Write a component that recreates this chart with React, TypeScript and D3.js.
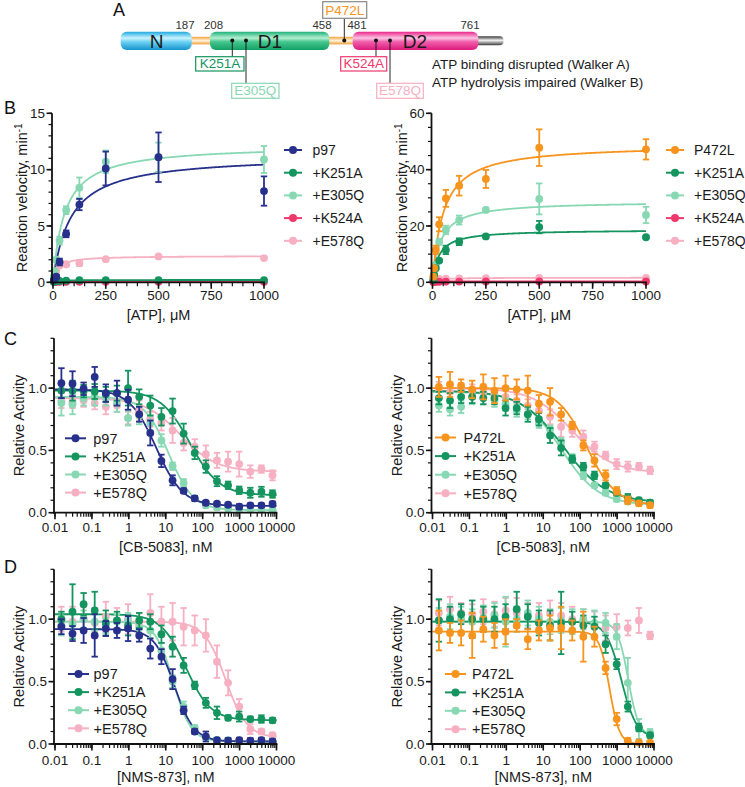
import React from "react";
import * as d3 from "d3";

const FONT = "'Liberation Sans', Arial, Helvetica, sans-serif";

const C_NAVY = "#27318c";
const C_DGREEN = "#14955f";
const C_LGREEN = "#88d8b3";
const C_RED = "#f0386d";
const C_PINK = "#f6b0c2";
const C_ORANGE = "#f7941e";

// ---------- Panel B data ----------
const atpConc = [3.9, 7.8, 15.6, 31.25, 62.5, 125, 250, 500, 1000];
const atpTicks = [0, 250, 500, 750, 1000];

const bL_p97 = [0.2, 0.3, 0.5, 1.8, 4.3, 6.9, 10.1, 11.1, 8.1];
const bL_p97_err = [0.1, 0.1, 0.15, 0.3, 0.3, 0.5, 1.5, 2.2, 1.3];
const bL_K251A = [0.05, 0.08, 0.1, 0.12, 0.15, 0.18, 0.2, 0.2, 0.2];
const bL_K251A_err = [0.02, 0.02, 0.02, 0.02, 0.02, 0.02, 0.03, 0.03, 0.03];
const bL_E305Q = [0.5, 1.0, 2.0, 3.7, 6.4, 8.4, 10.7, 11.1, 10.9];
const bL_E305Q_err = [0.1, 0.15, 0.2, 0.35, 0.35, 0.9, 1.0, 1.3, 1.2];
const bL_K524A = [0.02, 0.03, 0.04, 0.05, 0.05, 0.05, 0.05, 0.05, 0.05];
const bL_K524A_err = [0.01, 0.01, 0.01, 0.01, 0.01, 0.01, 0.01, 0.01, 0.01];
const bL_E578Q = [0.3, 0.6, 1.0, 1.5, 1.6, 1.7, 2.05, 2.3, 2.15];
const bL_E578Q_err = [0.05, 0.1, 0.1, 0.15, 0.15, 0.25, 0.1, 0.1, 0.1];
// Michaelis-Menten fit parameters [Vmax, Km]
const bL_fits = [[11.3, 82], [0.21, 20], [12.2, 55], [0.05, 10], [2.35, 22]];

const bR_P472L = [2.0, 5.0, 11.5, 20.6, 29.8, 34.3, 36.7, 47.8, 47.2];
const bR_P472L_err = [0.3, 0.5, 1.5, 2.5, 3, 3.5, 3.2, 6.5, 3.6];
const bR_K251A = [0.8, 2.6, 5.0, 7.7, 11.5, 14.4, 16.3, 19.6, 16.0];
const bR_K251A_err = [0.2, 0.3, 0.4, 0.5, 1.5, 1.2, 0.5, 2.2, 0.5];
const bR_E305Q = [1.2, 2.6, 6.2, 14.4, 18.6, 22.1, 25.7, 29.6, 23.9];
const bR_E305Q_err = [0.2, 0.3, 0.5, 1, 1.5, 1.6, 0.8, 5.5, 2.9];
const bR_K524A = [0.1, 0.15, 0.2, 0.2, 0.25, 0.25, 0.3, 0.3, 0.3];
const bR_K524A_err = [0.05, 0.05, 0.05, 0.05, 0.05, 0.05, 0.05, 0.05, 0.05];
const bR_E578Q = [0.5, 0.8, 1.0, 1.2, 1.3, 1.4, 1.5, 1.6, 1.6];
const bR_E578Q_err = [0.1, 0.1, 0.1, 0.1, 0.1, 0.1, 0.1, 0.1, 0.1];
const bR_fits = [[49, 50], [18.7, 30], [28.8, 38], [0.35, 20], [1.65, 25]];

// ---------- Panels C / D data ----------
const doseConc = [0.0149, 0.0298, 0.0596, 0.119, 0.238, 0.477, 0.954, 1.91, 3.81, 7.63, 15.3, 30.5, 61.0, 122, 244, 488, 977, 1953, 3906, 7813];
const doseTicks = [0.01, 0.1, 1, 10, 100, 1000, 10000];
const relTicks = [0, 0.5, 1.0];

const cL_p97 = [1.04, 1.035, 0.995, 1.09, 0.96, 0.96, 0.907, 0.79, 0.64, 0.416, 0.26, 0.176, 0.115, 0.08, 0.072, 0.064, 0.048, 0.059, 0.059, 0.07];
const cL_p97_err = [0.12, 0.1, 0.05, 0.08, 0.07, 0.1, 0.08, 0.06, 0.1, 0.05, 0.04, 0.02, 0.02, 0.015, 0.015, 0.015, 0.02, 0.015, 0.015, 0.02];
const cL_K251A = [0.98, 0.98, 0.976, 0.973, 0.95, 0.96, 1.0, 0.93, 0.86, 0.77, 0.816, 0.635, 0.48, 0.37, 0.253, 0.22, 0.18, 0.16, 0.168, 0.15];
const cL_K251A_err = [0.06, 0.08, 0.05, 0.06, 0.06, 0.06, 0.14, 0.06, 0.08, 0.07, 0.1, 0.08, 0.05, 0.05, 0.04, 0.03, 0.03, 0.04, 0.04, 0.03];
const cL_E305Q = [0.88, 0.87, 0.92, 0.93, 0.92, 0.88, 0.76, 0.78, 0.72, 0.58, 0.373, 0.24, 0.115, 0.06, 0.043, 0.035, 0.03, 0.025, 0.025, 0.02];
const cL_E305Q_err = [0.1, 0.08, 0.06, 0.07, 0.06, 0.07, 0.06, 0.07, 0.06, 0.05, 0.03, 0.03, 0.02, 0.02, 0.02, 0.02, 0.02, 0.02, 0.02, 0.02];
const cL_E578Q = [0.9, 0.89, 0.9, 0.88, 0.85, 0.86, 0.76, 0.82, 0.75, 0.72, 0.66, 0.56, 0.53, 0.47, 0.42, 0.41, 0.39, 0.33, 0.35, 0.3];
const cL_E578Q_err = [0.06, 0.05, 0.05, 0.05, 0.06, 0.05, 0.05, 0.08, 0.06, 0.06, 0.1, 0.06, 0.06, 0.07, 0.06, 0.08, 0.1, 0.05, 0.03, 0.04];
// dose-response fit parameters [top, bottom, IC50, hill]
const cL_fits = [[0.99, 0.055, 5.5, 1.2], [0.98, 0.14, 45, 1.1], [0.93, 0.02, 12, 1.3], [0.92, 0.33, 25, 0.9]];

const cR_P472L = [1.01, 1.03, 1.02, 0.99, 1.01, 0.98, 1.0, 0.99, 0.98, 0.875, 0.89, 0.79, 0.7, 0.54, 0.42, 0.3, 0.176, 0.1, 0.075, 0.06];
const cR_P472L_err = [0.08, 0.1, 0.05, 0.07, 0.1, 0.1, 0.1, 0.08, 0.12, 0.07, 0.11, 0.05, 0.03, 0.04, 0.05, 0.04, 0.03, 0.03, 0.02, 0.02];
const cR_K251A = [0.92, 0.9, 0.93, 0.93, 0.92, 0.92, 0.84, 0.84, 0.79, 0.75, 0.62, 0.52, 0.43, 0.37, 0.3, 0.22, 0.16, 0.12, 0.1, 0.08];
const cR_K251A_err = [0.05, 0.06, 0.05, 0.05, 0.05, 0.05, 0.06, 0.05, 0.06, 0.05, 0.06, 0.06, 0.03, 0.03, 0.03, 0.02, 0.02, 0.03, 0.02, 0.02];
const cR_E305Q = [0.86, 0.83, 0.85, 0.93, 0.92, 0.9, 0.87, 0.82, 0.79, 0.72, 0.67, 0.57, 0.44, 0.3, 0.22, 0.16, 0.11, 0.09, 0.08, 0.08];
const cR_E305Q_err = [0.05, 0.05, 0.05, 0.06, 0.05, 0.05, 0.05, 0.05, 0.04, 0.04, 0.03, 0.03, 0.03, 0.03, 0.02, 0.02, 0.02, 0.02, 0.02, 0.02];
const cR_E578Q = [0.99, 0.97, 0.99, 0.98, 0.97, 0.95, 0.93, 0.9, 0.86, 0.82, 0.77, 0.69, 0.66, 0.61, 0.53, 0.46, 0.39, 0.37, 0.37, 0.34];
const cR_E578Q_err = [0.06, 0.05, 0.05, 0.05, 0.06, 0.05, 0.05, 0.05, 0.05, 0.05, 0.06, 0.08, 0.05, 0.05, 0.04, 0.03, 0.04, 0.04, 0.03, 0.03];
const cR_fits = [[1.0, 0.06, 150, 1.1], [0.98, 0.08, 35, 0.75], [0.97, 0.06, 30, 0.85], [1.0, 0.32, 60, 0.8]];

const dL_p97 = [0.94, 0.885, 0.91, 0.87, 0.925, 0.91, 0.925, 0.87, 0.765, 0.7, 0.52, 0.27, 0.1, 0.06, 0.03, 0.027, 0.03, 0.027, 0.03, 0.02];
const dL_p97_err = [0.06, 0.06, 0.1, 0.17, 0.06, 0.06, 0.1, 0.05, 0.08, 0.06, 0.08, 0.03, 0.02, 0.04, 0.02, 0.02, 0.02, 0.02, 0.02, 0.02];
const dL_K251A = [1.0, 1.06, 1.12, 1.07, 0.97, 0.99, 0.95, 0.99, 0.98, 0.88, 0.78, 0.63, 0.47, 0.33, 0.25, 0.21, 0.22, 0.2, 0.2, 0.19];
const dL_K251A_err = [0.06, 0.22, 0.09, 0.15, 0.1, 0.07, 0.08, 0.06, 0.06, 0.07, 0.08, 0.06, 0.03, 0.04, 0.05, 0.02, 0.04, 0.02, 0.03, 0.02];
const dL_E305Q = [0.95, 0.96, 1.0, 0.98, 0.95, 0.98, 0.99, 0.93, 0.91, 0.75, 0.5, 0.3, 0.13, 0.05, 0.03, 0.03, 0.02, 0.02, 0.02, 0.02];
const dL_E305Q_err = [0.08, 0.1, 0.07, 0.08, 0.06, 0.06, 0.06, 0.07, 0.06, 0.06, 0.05, 0.04, 0.02, 0.02, 0.02, 0.02, 0.02, 0.02, 0.02, 0.02];
const dL_E578Q = [1.0, 0.98, 1.0, 0.97, 1.02, 0.99, 1.0, 0.95, 1.05, 0.98, 0.98, 0.94, 0.91, 0.87, 0.66, 0.49, 0.3, 0.12, 0.1, 0.07];
const dL_E578Q_err = [0.1, 0.12, 0.1, 0.12, 0.12, 0.1, 0.12, 0.1, 0.15, 0.12, 0.15, 0.15, 0.12, 0.13, 0.13, 0.1, 0.06, 0.04, 0.02, 0.02];
const dL_fits = [[0.92, 0.02, 17, 1.6], [1.04, 0.19, 35, 1.3], [0.98, 0.02, 16, 1.8], [0.98, 0.05, 420, 1.5]];

const dR_P472L = [0.91, 0.89, 0.89, 0.87, 0.92, 0.87, 0.9, 0.95, 0.84, 0.91, 0.93, 0.93, 0.91, 0.86, 0.86, 0.61, 0.2, 0.027, 0.013, 0.01];
const dR_P472L_err = [0.16, 0.08, 0.1, 0.18, 0.1, 0.1, 0.1, 0.05, 0.08, 0.08, 0.1, 0.17, 0.08, 0.2, 0.08, 0.05, 0.05, 0.02, 0.01, 0.01];
const dR_K251A = [0.99, 1.0, 1.04, 1.0, 1.0, 1.0, 1.02, 1.08, 1.02, 0.97, 0.95, 0.97, 0.98, 0.95, 0.94, 0.8, 0.64, 0.3, 0.133, 0.07];
const dR_K251A_err = [0.17, 0.1, 0.08, 0.15, 0.1, 0.1, 0.1, 0.14, 0.1, 0.1, 0.12, 0.25, 0.08, 0.08, 0.08, 0.07, 0.04, 0.04, 0.03, 0.02];
const dR_E305Q = [0.99, 1.02, 1.0, 0.98, 1.01, 1.03, 0.98, 1.0, 1.05, 1.0, 0.98, 0.99, 0.98, 1.0, 0.97, 0.97, 0.86, 0.49, 0.12, 0.09];
const dR_E305Q_err = [0.1, 0.1, 0.1, 0.1, 0.1, 0.1, 0.2, 0.1, 0.1, 0.1, 0.1, 0.1, 0.1, 0.08, 0.1, 0.08, 0.1, 0.2, 0.08, 0.03];
const dR_E578Q = [1.05, 1.08, 1.05, 1.04, 1.06, 1.04, 1.07, 1.05, 1.03, 1.03, 1.05, 1.03, 1.0, 0.98, 0.96, 0.93, 0.94, 0.93, 0.99, 0.87];
const dR_E578Q_err = [0.1, 0.1, 0.08, 0.08, 0.1, 0.1, 0.1, 0.12, 0.1, 0.1, 0.1, 0.1, 0.1, 0.1, 0.1, 0.1, 0.1, 0.06, 0.1, 0.03];
const dR_fits = [[0.9, 0.0, 620, 3.2], [0.98, 0.05, 1300, 2.1], [0.98, 0.06, 2000, 3], null];

type Series = { name: string; color: string; y: number[]; err: number[]; fit: number[] | null };

const mm = (p: number[]) => (x: number) => (p[0] * x) / (p[1] + x);
const dose = (p: number[]) => (x: number) => p[1] + (p[0] - p[1]) / (1 + Math.pow(x / p[2], p[3]));

type PanelProps = {
  left: number; right: number; top: number; bottom: number;
  log: boolean; yMax: number; yMajor: number[]; yMinorStep: number;
  yFmt: (v: number) => string; xTitle: string; yTitle: string; yTitleX: number;
  xTickY: number; xTitleY: number; series: Series[]; conc: number[];
  legend: { y0: number; dy: number; lx0: number; lx1: number; tx: number; fs: number };
};

function Panel(p: PanelProps) {
  const x: any = p.log
    ? d3.scaleLog().domain([0.01, 10000]).range([p.left, p.right])
    : d3.scaleLinear().domain([0, 1000]).range([p.left, p.right]);
  const y = d3.scaleLinear().domain([0, p.yMax]).range([p.bottom, p.top]);
  const xMajor = p.log ? doseTicks : atpTicks;
  const xMinor: number[] = p.log ? (x.ticks() as number[]) : d3.range(0, 1001, 50);
  const yMinor = d3.range(0, p.yMax + 1e-9, p.yMinorStep);
  const grid = p.log ? d3.range(-2, 4.0001, 0.02).map((e) => Math.pow(10, e)) : d3.range(0, 1000.1, 4);
  const cap = 3.2;
  const sw = 1.8;
  return (
    <g fontFamily={FONT}>
      {[...p.series].reverse().map((s, i) =>
        s.fit ? (
          <path key={"f" + i}
            d={d3.line<number>().x((d) => x(d)).y((d) => y((p.log ? dose(s.fit!) : mm(s.fit!))(d)))(grid) || ""}
            fill="none" stroke={s.color} strokeWidth={1.8} />
        ) : null
      )}
      {[...p.series].reverse().map((s, i) => (
        <g key={"s" + i} stroke={s.color} fill={s.color}>
          {p.conc.map((c, j) => {
            const cx = x(c);
            const v = s.y[j];
            const e = s.err[j];
            const y1 = y(Math.max(0, v - e));
            const y2 = y(v + e);
            return (
              <g key={j}>
                <line x1={cx} x2={cx} y1={y1} y2={y2} strokeWidth={sw} />
                <line x1={cx - cap} x2={cx + cap} y1={y1} y2={y1} strokeWidth={sw} />
                <line x1={cx - cap} x2={cx + cap} y1={y2} y2={y2} strokeWidth={sw} />
                <circle cx={cx} cy={y(v)} r={3.9} stroke="none" />
              </g>
            );
          })}
        </g>
      ))}
      <g stroke="#111" fill="none">
        <line x1={p.left - 1} x2={p.left - 1} y1={p.top} y2={p.bottom + 0.9} strokeWidth={1.8} />
        <line x1={p.left - 1.9} x2={p.right + 0.9} y1={p.bottom} y2={p.bottom} strokeWidth={1.8} />
        {yMinor.map((v, i) => (
          <line key={"ym" + i} x1={p.left - 1} x2={p.left - 4.5} y1={y(v)} y2={y(v)} strokeWidth={1.2} />
        ))}
        {p.yMajor.map((v, i) => (
          <line key={"yM" + i} x1={p.left - 1} x2={p.left - 6.5} y1={y(v)} y2={y(v)} strokeWidth={1.6} />
        ))}
        {xMinor.map((v, i) => (
          <line key={"xm" + i} x1={x(v)} x2={x(v)} y1={p.bottom} y2={p.bottom + 4} strokeWidth={1.2} />
        ))}
        {xMajor.map((v, i) => (
          <line key={"xM" + i} x1={x(v)} x2={x(v)} y1={p.bottom} y2={p.bottom + 6.5} strokeWidth={1.6} />
        ))}
      </g>
      <g fill="#1a1a1a" fontSize={13.5}>
        {p.yMajor.map((v, i) => (
          <text key={"yl" + i} x={p.left - 8} y={y(v)} dy="0.35em" textAnchor="end">{p.yFmt(v)}</text>
        ))}
        {xMajor.map((v, i) => (
          <text key={"xl" + i} x={x(v)} y={p.xTickY} textAnchor="middle">{String(v)}</text>
        ))}
      </g>
      <text x={(p.left + p.right) / 2} y={p.xTitleY} textAnchor="middle" fontSize={14.5} fill="#1a1a1a">
        {p.xTitle}
      </text>
      <text transform={`translate(${p.yTitleX},${(p.top + p.bottom) / 2}) rotate(-90)`} textAnchor="middle"
        dy="0.35em" fontSize={14.5} fill="#1a1a1a">
        {p.yTitle === "RV" ? (<>Reaction velocity, min<tspan dy="-5" fontSize={10}>-1</tspan></>) : p.yTitle}
      </text>
      {p.series.map((s, i) => {
        const ly = p.legend.y0 + i * p.legend.dy;
        return (
          <g key={"lg" + i}>
            <line x1={p.legend.lx0} x2={p.legend.lx1} y1={ly} y2={ly} stroke={s.color} strokeWidth={2} />
            <circle cx={(p.legend.lx0 + p.legend.lx1) / 2} cy={ly} r={4} fill={s.color} />
            <text x={p.legend.tx} y={ly} dy="0.36em" fontSize={p.legend.fs} fill="#1a1a1a">{s.name}</text>
          </g>
        );
      })}
    </g>
  );
}

function mk(names: string[], colors: string[], ys: number[][], errs: number[][], fits: (number[] | null)[]): Series[] {
  return names.map((n, i) => ({ name: n, color: colors[i], y: ys[i], err: errs[i], fit: fits[i] }));
}

function PanelA() {
  const barY = 31.7, barH = 18.3;
  return (
    <g fontFamily={FONT}>
      <defs>
        <linearGradient id="gN" x1="0" y1="0" x2="0" y2="1">
          <stop offset="0" stopColor="#1ea8df" />
          <stop offset="0.35" stopColor="#c9f3ff" />
          <stop offset="0.55" stopColor="#6fd2f3" />
          <stop offset="1" stopColor="#1493cc" />
        </linearGradient>
        <linearGradient id="gD1" x1="0" y1="0" x2="0" y2="1">
          <stop offset="0" stopColor="#1cb176" />
          <stop offset="0.35" stopColor="#b4efd2" />
          <stop offset="0.55" stopColor="#45c68e" />
          <stop offset="1" stopColor="#11a066" />
        </linearGradient>
        <linearGradient id="gD2" x1="0" y1="0" x2="0" y2="1">
          <stop offset="0" stopColor="#ea2489" />
          <stop offset="0.35" stopColor="#fcc3e2" />
          <stop offset="0.55" stopColor="#f05fab" />
          <stop offset="1" stopColor="#dd1a7c" />
        </linearGradient>
        <linearGradient id="gL" x1="0" y1="0" x2="0" y2="1">
          <stop offset="0" stopColor="#f0a23a" />
          <stop offset="0.5" stopColor="#fff3dc" />
          <stop offset="1" stopColor="#eea03a" />
        </linearGradient>
        <linearGradient id="gT" x1="0" y1="0" x2="0" y2="1">
          <stop offset="0" stopColor="#3a3a3a" />
          <stop offset="0.45" stopColor="#f2f2f2" />
          <stop offset="1" stopColor="#3a3a3a" />
        </linearGradient>
      </defs>
      <text x={113} y={16} fontSize={18} fill="#111">A</text>
      <rect x={188} y={36.8} width={26} height={7.6} fill="url(#gL)" />
      <rect x={325} y={36.8} width={32} height={7.6} fill="url(#gL)" />
      <rect x={472} y={36.3} width={31.5} height={9} rx={4} fill="url(#gT)" />
      <rect x={120.7} y={barY} width={71} height={barH} rx={6} fill="url(#gN)" />
      <rect x={210} y={barY} width={119.3} height={barH} rx={6} fill="url(#gD1)" />
      <rect x={352.7} y={barY} width={125.6} height={barH} rx={6} fill="url(#gD2)" />
      <g fontSize={19} fill="#1a1a1a" textAnchor="middle">
        <text x={156.5} y={41} dy="0.36em">N</text>
        <text x={270} y={41} dy="0.36em">D1</text>
        <text x={415} y={41} dy="0.36em">D2</text>
      </g>
      <g fontSize={11.5} fill="#333" textAnchor="middle">
        <text x={185} y={29}>187</text>
        <text x={213.5} y={29}>208</text>
        <text x={322} y={29}>458</text>
        <text x={357} y={29}>481</text>
        <text x={470} y={29}>761</text>
      </g>
      <g stroke="#111" strokeWidth={0.9}>
        <line x1={232.3} x2={232.3} y1={40.5} y2={56.7} />
        <line x1={246} x2={246} y1={40.5} y2={83.3} />
        <line x1={344.3} x2={344.3} y1={40.5} y2={18.3} />
        <line x1={376} x2={376} y1={40.5} y2={56.7} />
        <line x1={390} x2={390} y1={40.5} y2={83.3} />
      </g>
      <g fill="#111">
        <circle cx={232.3} cy={40.5} r={2} />
        <circle cx={246} cy={40.5} r={2} />
        <circle cx={344.3} cy={40.5} r={2} />
        <circle cx={376} cy={40.5} r={2} />
        <circle cx={390} cy={40.5} r={2} />
      </g>
      <g fontSize={13.5} textAnchor="middle" strokeWidth={1.2}>
        <rect x={195.7} y={56.7} width={48.3} height={14.3} fill="#fff" stroke={C_DGREEN} />
        <text x={219.9} y={68.3} fill={C_DGREEN}>K251A</text>
        <rect x={231.7} y={83.3} width={47.3} height={15} fill="#fff" stroke={C_LGREEN} />
        <text x={255.3} y={95.3} fill={C_LGREEN}>E305Q</text>
        <rect x={322.7} y={1.7} width={44} height={16.6} fill="#fff" stroke="#888" />
        <text x={344.7} y={14.6} fill={C_ORANGE}>P472L</text>
        <rect x={340.7} y={56.7} width={46} height={14.3} fill="#fff" stroke={C_RED} />
        <text x={363.7} y={68.3} fill={C_RED}>K524A</text>
        <rect x={376.7} y={83.3} width={46.6} height={15} fill="#fff" stroke={C_PINK} />
        <text x={400} y={95.3} fill={C_PINK}>E578Q</text>
      </g>
      <g fontSize={13.5} fill="#1a1a1a">
        <text x={432} y={68.5}>ATP binding disrupted (Walker A)</text>
        <text x={432} y={86.5}>ATP hydrolysis impaired (Walker B)</text>
      </g>
    </g>
  );
}

const wtNames = ["p97", "+K251A", "+E305Q", "+K524A", "+E578Q"];
const plNames = ["P472L", "+K251A", "+E305Q", "+K524A", "+E578Q"];
const cdWtNames = ["p97", "+K251A", "+E305Q", "+E578Q"];
const cdPlNames = ["P472L", "+K251A", "+E305Q", "+E578Q"];

export default function App() {
  const wtCols = [C_NAVY, C_DGREEN, C_LGREEN, C_RED, C_PINK];
  const plCols = [C_ORANGE, C_DGREEN, C_LGREEN, C_RED, C_PINK];
  const cdWtCols = [C_NAVY, C_DGREEN, C_LGREEN, C_PINK];
  const cdPlCols = [C_ORANGE, C_DGREEN, C_LGREEN, C_PINK];

  const bL = mk(wtNames, wtCols, [bL_p97, bL_K251A, bL_E305Q, bL_K524A, bL_E578Q],
    [bL_p97_err, bL_K251A_err, bL_E305Q_err, bL_K524A_err, bL_E578Q_err], bL_fits);
  const bR = mk(plNames, plCols, [bR_P472L, bR_K251A, bR_E305Q, bR_K524A, bR_E578Q],
    [bR_P472L_err, bR_K251A_err, bR_E305Q_err, bR_K524A_err, bR_E578Q_err], bR_fits);
  const cL = mk(cdWtNames, cdWtCols, [cL_p97, cL_K251A, cL_E305Q, cL_E578Q], [cL_p97_err, cL_K251A_err, cL_E305Q_err, cL_E578Q_err], cL_fits);
  const cR = mk(cdPlNames, cdPlCols, [cR_P472L, cR_K251A, cR_E305Q, cR_E578Q], [cR_P472L_err, cR_K251A_err, cR_E305Q_err, cR_E578Q_err], cR_fits);
  const dL = mk(cdWtNames, cdWtCols, [dL_p97, dL_K251A, dL_E305Q, dL_E578Q], [dL_p97_err, dL_K251A_err, dL_E305Q_err, dL_E578Q_err], dL_fits);
  const dR = mk(cdPlNames, cdPlCols, [dR_P472L, dR_K251A, dR_E305Q, dR_E578Q], [dR_P472L_err, dR_K251A_err, dR_E305Q_err, dR_E578Q_err], dR_fits);

  const fmtInt = (v: number) => String(v);
  const fmt1 = (v: number) => v.toFixed(1);

  return (
    <svg width={745} height={787} style={{ position: "absolute", left: 0, top: 0, background: "#fff" }}>
      <rect x={0} y={0} width={745} height={787} fill="#fff" />
      <PanelA />
      <g fontFamily={FONT} fontSize={18} fill="#111">
        <text x={4} y={114}>B</text>
        <text x={4} y={345}>C</text>
        <text x={4} y={573}>D</text>
      </g>
      <Panel left={53} right={264} top={113.3} bottom={282.3} log={false} yMax={15} yMajor={[0, 5, 10, 15]} yMinorStep={1}
        yFmt={fmtInt} xTitle="[ATP], μM" yTitle="RV" yTitleX={22} xTickY={300} xTitleY={320} series={bL} conc={atpConc}
        legend={{ y0: 150, dy: 22.7, lx0: 284, lx1: 302, tx: 312.5, fs: 14 }} />
      <Panel left={432.5} right={646} top={113.3} bottom={282.3} log={false} yMax={60} yMajor={[0, 20, 40, 60]} yMinorStep={5}
        yFmt={fmtInt} xTitle="[ATP], μM" yTitle="RV" yTitleX={402} xTickY={300} xTitleY={320} series={bR} conc={atpConc}
        legend={{ y0: 150, dy: 22.7, lx0: 666, lx1: 684, tx: 694, fs: 14 }} />
      <Panel left={55} right={276.5} top={338.3} bottom={512.7} log={true} yMax={1.4} yMajor={relTicks} yMinorStep={0.1}
        yFmt={fmt1} xTitle="[CB-5083], nM" yTitle="Relative Activity" yTitleX={19} xTickY={532} xTitleY={552} series={cL} conc={doseConc}
        legend={{ y0: 438.3, dy: 18.1, lx0: 65, lx1: 86, tx: 93.3, fs: 14.5 }} />
      <Panel left={432.5} right={654} top={338.3} bottom={512.7} log={true} yMax={1.4} yMajor={relTicks} yMinorStep={0.1}
        yFmt={fmt1} xTitle="[CB-5083], nM" yTitle="Relative Activity" yTitleX={397} xTickY={532} xTitleY={552} series={cR} conc={doseConc}
        legend={{ y0: 437.5, dy: 18.6, lx0: 435, lx1: 456, tx: 463.5, fs: 14.5 }} />
      <Panel left={55} right={276.5} top={569.3} bottom={744} log={true} yMax={1.4} yMajor={relTicks} yMinorStep={0.1}
        yFmt={fmt1} xTitle="[NMS-873], nM" yTitle="Relative Activity" yTitleX={19} xTickY={765} xTitleY={782} series={dL} conc={doseConc}
        legend={{ y0: 674, dy: 18.1, lx0: 68, lx1: 89, tx: 93.5, fs: 14.5 }} />
      <Panel left={432.5} right={654} top={569.3} bottom={744} log={true} yMax={1.4} yMajor={relTicks} yMinorStep={0.1}
        yFmt={fmt1} xTitle="[NMS-873], nM" yTitle="Relative Activity" yTitleX={397} xTickY={765} xTitleY={782} series={dR} conc={doseConc}
        legend={{ y0: 674, dy: 18.4, lx0: 445, lx1: 466, tx: 472, fs: 14.5 }} />
    </svg>
  );
}
